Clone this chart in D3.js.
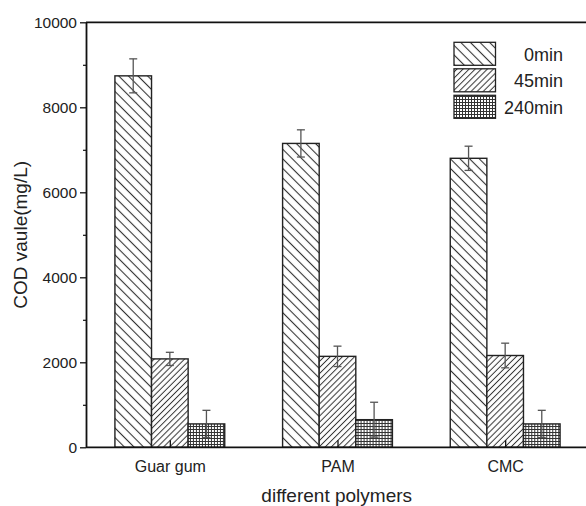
<!DOCTYPE html>
<html><head><meta charset="utf-8">
<script src="https://cdn.jsdelivr.net/npm/d3@7"></script>
<style>body{margin:0;background:#fff}svg{display:block;font-family:"Liberation Sans",Arial,sans-serif}</style>
</head><body><svg id="c" width="586" height="506"></svg>
<script>
const categories = ["Guar gum", "PAM", "CMC"];
const series = ["0min", "45min", "240min"];
const values0 = [8740, 7150, 6800];
const values45 = [2080, 2140, 2160];
const values240 = [550, 650, 550];
const err0 = [400, 320, 285];
const err45 = [155, 240, 290];
const err240 = [320, 410, 320];
const yTicks = [0, 2000, 4000, 6000, 8000, 10000];
const yMinor = [1000, 3000, 5000, 7000, 9000];

(function () {
const svg = d3.select("#c");
const pLeft = 86, pRight = 589, pTop = 22.3, pBottom = 447.3;
const y = d3.scaleLinear().domain([0, 10000]).range([pBottom, pTop]);
const x0 = d3.scaleBand().domain(categories).range([pLeft, pRight]).paddingInner(0.345).paddingOuter(0.1725);
const x1 = d3.scaleBand().domain(series).range([0, x0.bandwidth()]);

const defs = svg.append("defs");
function hatch(id, spacing, angle, sw) {
  const p = defs.append("pattern").attr("id", id).attr("patternUnits", "userSpaceOnUse")
    .attr("width", spacing).attr("height", spacing).attr("patternTransform", `rotate(${angle})`);
  p.append("rect").attr("width", spacing).attr("height", spacing).attr("fill", "#fff");
  p.append("line").attr("x1", 0).attr("x2", spacing).attr("y1", spacing / 2).attr("y2", spacing / 2)
    .attr("stroke", "#333").attr("stroke-width", sw);
}
hatch("p0", 6.8, 45, 1.1);
hatch("p45", 4.3, -45, 1.0);
const pc = defs.append("pattern").attr("id", "p240").attr("patternUnits", "userSpaceOnUse")
  .attr("width", 3).attr("height", 3);
pc.append("rect").attr("width", 3).attr("height", 3).attr("fill", "#fff");
pc.append("rect").attr("x", 0).attr("y", 0).attr("width", 3).attr("height", 1).attr("fill", "#333");
pc.append("rect").attr("x", 0).attr("y", 0).attr("width", 1).attr("height", 3).attr("fill", "#333");
const fills = {"0min": "url(#p0)", "45min": "url(#p45)", "240min": "url(#p240)"};

const data = categories.map((c, i) => ({
  cat: c,
  items: [
    {s: "0min", v: values0[i], e: err0[i]},
    {s: "45min", v: values45[i], e: err45[i]},
    {s: "240min", v: values240[i], e: err240[i]}
  ]
}));

const g = svg.append("g");
const groups = g.selectAll("g.grp").data(data).join("g").attr("class", "grp")
  .attr("transform", d => `translate(${x0(d.cat)},0)`);
groups.selectAll("rect").data(d => d.items).join("rect")
  .attr("x", d => x1(d.s)).attr("width", x1.bandwidth())
  .attr("y", d => y(d.v)).attr("height", d => y(0) - y(d.v))
  .attr("fill", d => fills[d.s]).attr("stroke", "#222").attr("stroke-width", 1.4);

const eb = groups.selectAll("g.eb").data(d => d.items).join("g").attr("class", "eb")
  .attr("stroke", "#555").attr("stroke-width", 1.3);
const cx = d => x1(d.s) + x1.bandwidth() / 2;
eb.append("line").attr("x1", cx).attr("x2", cx)
  .attr("y1", d => y(d.v + d.e)).attr("y2", d => y(d.v - d.e));
eb.append("line").attr("x1", d => cx(d) - 4).attr("x2", d => cx(d) + 4)
  .attr("y1", d => y(d.v + d.e)).attr("y2", d => y(d.v + d.e));
eb.append("line").attr("x1", d => cx(d) - 4).attr("x2", d => cx(d) + 4)
  .attr("y1", d => y(d.v - d.e)).attr("y2", d => y(d.v - d.e));

const yAx = svg.append("g").attr("transform", `translate(${pLeft},0)`)
  .call(d3.axisLeft(y).tickValues(yTicks).tickFormat(d3.format("d")).tickSize(6).tickSizeOuter(0).tickPadding(3));
yAx.select(".domain").attr("stroke", "#111").attr("stroke-width", 1.8);
yAx.selectAll(".tick line").attr("stroke", "#111").attr("stroke-width", 1.3);
yAx.selectAll("text").attr("font-size", "15.5px").attr("fill", "#222").attr("font-family", "Liberation Sans, Arial, sans-serif");
svg.append("g").attr("transform", `translate(${pLeft},0)`)
  .call(d3.axisLeft(y).tickValues(yMinor).tickFormat("").tickSize(3).tickSizeOuter(0))
  .call(a => { a.select(".domain").remove(); a.selectAll("line").attr("stroke", "#111").attr("stroke-width", 1.2); });

const xPts = d3.scalePoint().domain(categories)
  .range([x0(categories[0]) + x0.bandwidth() / 2, x0(categories[categories.length - 1]) + x0.bandwidth() / 2]);
const xAx = svg.append("g").attr("transform", `translate(0,${pBottom})`)
  .call(d3.axisBottom(xPts).tickSizeInner(-7).tickSizeOuter(0).tickPadding(13));
xAx.select(".domain").remove();
xAx.selectAll(".tick line").attr("stroke", "#111").attr("stroke-width", 1.3);
xAx.selectAll("text").attr("font-size", "16px").attr("fill", "#222").attr("font-family", "Liberation Sans, Arial, sans-serif");
svg.append("line").attr("x1", pLeft).attr("x2", 586).attr("y1", pBottom).attr("y2", pBottom).attr("stroke", "#111").attr("stroke-width", 1.8);
svg.append("line").attr("x1", pLeft).attr("x2", 586).attr("y1", pTop).attr("y2", pTop).attr("stroke", "#111").attr("stroke-width", 1.8);

svg.append("text").attr("x", 336.7).attr("y", 502).attr("text-anchor", "middle")
  .attr("font-size", "19px").attr("fill", "#222").text("different polymers");
svg.append("text").attr("transform", `translate(27,${(pTop + pBottom) / 2}) rotate(-90)`).attr("text-anchor", "middle")
  .attr("font-size", "19px").attr("fill", "#222").text("COD vaule(mg/L)");

const lg = svg.append("g");
series.forEach((s, i) => {
  const yy = 42.3 + i * 26.5;
  lg.append("rect").attr("x", 454).attr("y", yy).attr("width", 41.5).attr("height", 23)
    .attr("fill", fills[s]).attr("stroke", "#222").attr("stroke-width", 1.3);
  lg.append("text").attr("x", 563).attr("y", yy + 18.5).attr("text-anchor", "end")
    .attr("font-size", "18px").attr("fill", "#222").text(s);
});
})();
</script></body></html>
